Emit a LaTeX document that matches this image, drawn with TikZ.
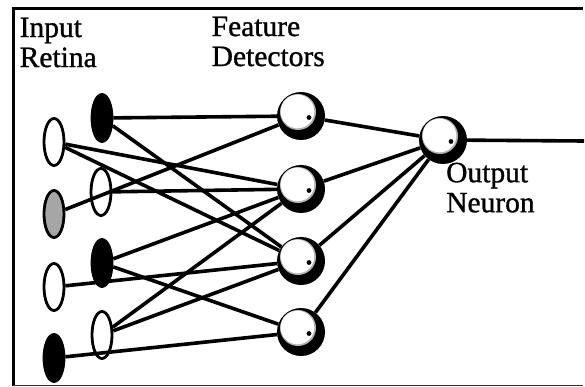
\documentclass[tikz,border=0pt]{standalone}
\usepackage{fontspec}
\setmainfont{Liberation Serif}[FakeBold=1]
\usetikzlibrary{shapes.geometric}

\tikzset{
  cell/.style={ellipse, draw=black, line width=2.8pt, fill=white,
               minimum width=20pt, minimum height=47pt, inner sep=0pt},
  oncell/.style={cell, fill=black},
  midcell/.style={cell, fill=black!35},
  ball/.style={circle, fill=black, minimum size=48pt, inner sep=0pt,
    path picture={
      \fill[black!30] ([shift={(-3pt,4pt)}]path picture bounding box.center) circle (18pt);
      \fill[white] ([shift={(-3.5pt,4.5pt)}]path picture bounding box.center) circle (16.8pt);
      \fill[black] ([shift={(8pt,-1.5pt)}]path picture bounding box.center) circle (2.4pt);
    }},
  wire/.style={line width=3.6pt},
  lbl/.style={font=\fontsize{29.5}{30}\selectfont, align=left, inner sep=0pt, anchor=north west},
  frame/.style={line width=3pt}
}

\begin{document}
\begin{tikzpicture}[x=1pt, y=-1pt]
  \useasboundingbox (0,0) rectangle (585,387);

  % border
  \coordinate (tl) at (13,8.5);
  \coordinate (tr) at (583,8.5);
  \coordinate (bl) at (13,385.5);
  \coordinate (br) at (583,385.5);
  \draw[frame] (tr) -- (tl) -- (bl);
  \draw[line width=1.4pt, black!80] (bl) -- (br);

  % labels
  \node[lbl] (tin)  at (19.5,17.5) {Input\\Retina};
  \node[lbl] (tfd)  at (211.5,16.5) {Feature\\Detectors};
  \node[lbl] (tout) at (446,162.5) {Output\\Neuron};

  % retina, outer column
  \node[cell]    (L1) at (54,142) {};
  \node[midcell] (L2) at (54,214) {};
  \node[cell]    (L3) at (54,287) {};
  \node[oncell]  (L4) at (54,358) {};

  % retina, inner column
  \node[oncell]  (R1) at (102,118) {};
  \node[cell]    (R2) at (101,192) {};
  \node[oncell]  (R3) at (102,263) {};
  \node[cell]    (R4) at (102,335) {};

  % feature detectors and output neuron
  \node[ball] (F1) at (301,116) {};
  \node[ball] (F2) at (301,189) {};
  \node[ball] (F3) at (301,261) {};
  \node[ball] (F4) at (301,332) {};
  \node[ball] (O)  at (443,140) {};
  \coordinate (axon) at (584,141);

  % retina to detectors
  \draw[wire] (R1) -- (F1);
  \draw[wire] (R1) -- (F3);
  \draw[wire] (L1) -- (F2);
  \draw[wire] (L1) -- (F3);
  \draw[wire] (L2) -- (F1);
  \draw[wire] (R2) -- (F2);
  \draw[wire] (R3) -- (F2);
  \draw[wire] (R3) -- (F4);
  \draw[wire] (R4) -- (F2);
  \draw[wire] (R4) -- (F3);
  \draw[wire] (L3) -- (F3);
  \draw[wire] (L4) -- (F4);

  % detectors to output
  \draw[wire] (F1) -- (O);
  \draw[wire] (F2) -- (O);
  \draw[wire] (F3) -- (O);
  \draw[wire] (F4) -- (O);
  \draw[wire] (O) -- (axon);
\end{tikzpicture}
\end{document}
